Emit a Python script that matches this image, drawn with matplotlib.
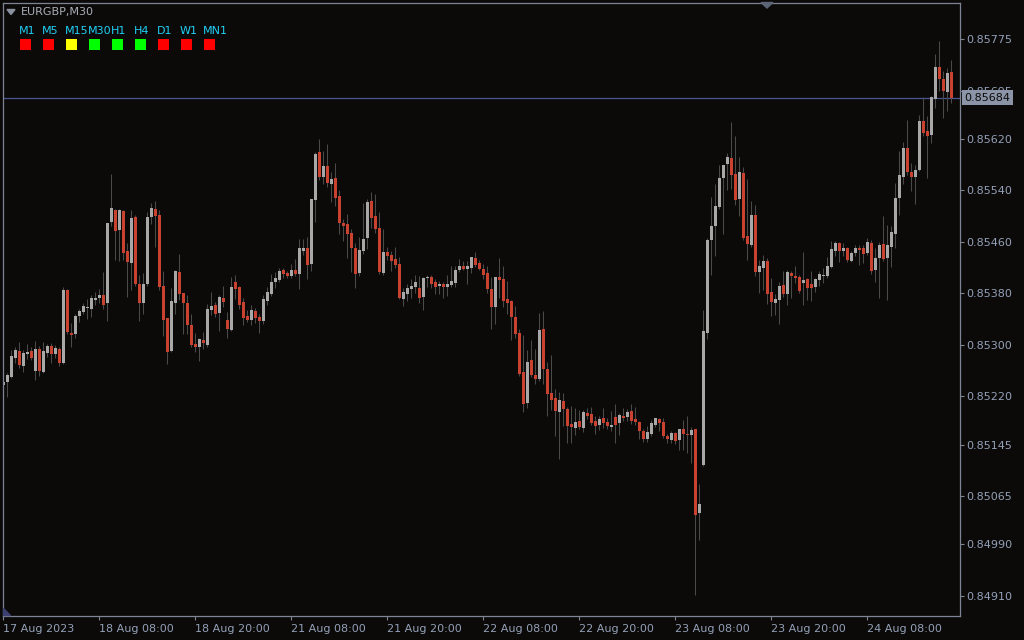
import matplotlib
matplotlib.use('Agg')
import matplotlib.pyplot as plt
from matplotlib.patches import Rectangle, Polygon
import numpy as np

# EURGBP M30 candles, oldest first (17 Aug 20:00 .. 24 Aug)
opens = [
    0.85238, 0.85242, 0.85250, 0.85280, 0.85290, 0.85267, 0.85286, 0.85290, 0.85259, 0.85294,
    0.85258, 0.85287, 0.85298, 0.85286, 0.85294, 0.85272, 0.85385, 0.85318, 0.85317, 0.85345,
    0.85351, 0.85357, 0.85356, 0.85370, 0.85373, 0.85378, 0.85365, 0.85491, 0.85510, 0.85478,
    0.85508, 0.85446, 0.85427, 0.85499, 0.85395, 0.85365, 0.85395, 0.85499, 0.85511, 0.85502,
    0.85391, 0.85342, 0.85290, 0.85365, 0.85413, 0.85381, 0.85365, 0.85331, 0.85301, 0.85297,
    0.85308, 0.85300, 0.85354, 0.85362, 0.85349, 0.85373, 0.85339, 0.85323, 0.85398, 0.85390,
    0.85367, 0.85345, 0.85339, 0.85353, 0.85343, 0.85337, 0.85368, 0.85379, 0.85398, 0.85401,
    0.85416, 0.85412, 0.85407, 0.85416, 0.85410, 0.85446, 0.85450, 0.85426, 0.85525, 0.85599,
    0.85561, 0.85578, 0.85550, 0.85559, 0.85531, 0.85489, 0.85488, 0.85474, 0.85450, 0.85412,
    0.85446, 0.85466, 0.85523, 0.85500, 0.85481, 0.85412, 0.85444, 0.85440, 0.85433, 0.85426,
    0.85371, 0.85379, 0.85387, 0.85390, 0.85388, 0.85374, 0.85404, 0.85405, 0.85398, 0.85391,
    0.85395, 0.85390, 0.85393, 0.85396, 0.85416, 0.85422, 0.85418, 0.85419, 0.85435, 0.85427,
    0.85418, 0.85412, 0.85387, 0.85359, 0.85405, 0.85402, 0.85371, 0.85368, 0.85343, 0.85318,
    0.85258, 0.85210, 0.85276, 0.85253, 0.85247, 0.85325, 0.85262, 0.85225, 0.85218, 0.85196,
    0.85213, 0.85200, 0.85177, 0.85171, 0.85182, 0.85171, 0.85194, 0.85193, 0.85182, 0.85176,
    0.85186, 0.85180, 0.85172, 0.85188, 0.85179, 0.85190, 0.85188, 0.85197, 0.85185, 0.85180,
    0.85166, 0.85154, 0.85162, 0.85176, 0.85185, 0.85180, 0.85158, 0.85152, 0.85163, 0.85152,
    0.85169, 0.85162, 0.85160, 0.85169, 0.85039, 0.85113, 0.85318, 0.85463, 0.85485, 0.85514,
    0.85559, 0.85581, 0.85590, 0.85565, 0.85526, 0.85567, 0.85469, 0.85455, 0.85502, 0.85413,
    0.85419, 0.85430, 0.85382, 0.85365, 0.85370, 0.85393, 0.85379, 0.85412, 0.85407, 0.85405,
    0.85396, 0.85402, 0.85395, 0.85390, 0.85401, 0.85407, 0.85407, 0.85421, 0.85446, 0.85458,
    0.85446, 0.85450, 0.85430, 0.85443, 0.85450, 0.85450, 0.85443, 0.85458, 0.85416, 0.85435,
    0.85457, 0.85435, 0.85452, 0.85472, 0.85528, 0.85561, 0.85606, 0.85568, 0.85561, 0.85572,
    0.85648, 0.85632, 0.85626, 0.85682, 0.85731, 0.85713, 0.85693, 0.85724,
]
highs = [
    0.85259, 0.85256, 0.85292, 0.85297, 0.85304, 0.85292, 0.85301, 0.85297, 0.85306, 0.85298,
    0.85304, 0.85301, 0.85303, 0.85300, 0.85297, 0.85390, 0.85386, 0.85334, 0.85348, 0.85356,
    0.85365, 0.85371, 0.85378, 0.85382, 0.85387, 0.85413, 0.85490, 0.85565, 0.85511, 0.85511,
    0.85510, 0.85458, 0.85510, 0.85502, 0.85408, 0.85412, 0.85506, 0.85520, 0.85523, 0.85510,
    0.85415, 0.85342, 0.85388, 0.85416, 0.85441, 0.85381, 0.85378, 0.85348, 0.85318, 0.85311,
    0.85320, 0.85363, 0.85382, 0.85367, 0.85378, 0.85391, 0.85351, 0.85405, 0.85408, 0.85391,
    0.85373, 0.85354, 0.85362, 0.85357, 0.85348, 0.85378, 0.85390, 0.85410, 0.85413, 0.85419,
    0.85419, 0.85415, 0.85426, 0.85433, 0.85464, 0.85464, 0.85467, 0.85527, 0.85599, 0.85620,
    0.85601, 0.85612, 0.85568, 0.85582, 0.85540, 0.85495, 0.85503, 0.85480, 0.85458, 0.85467,
    0.85520, 0.85527, 0.85537, 0.85534, 0.85506, 0.85480, 0.85452, 0.85446, 0.85452, 0.85436,
    0.85388, 0.85395, 0.85402, 0.85408, 0.85407, 0.85405, 0.85408, 0.85408, 0.85402, 0.85399,
    0.85398, 0.85408, 0.85422, 0.85422, 0.85433, 0.85430, 0.85430, 0.85437, 0.85444, 0.85432,
    0.85426, 0.85422, 0.85405, 0.85406, 0.85435, 0.85422, 0.85399, 0.85370, 0.85360, 0.85325,
    0.85315, 0.85292, 0.85308, 0.85294, 0.85350, 0.85353, 0.85273, 0.85284, 0.85231, 0.85227,
    0.85225, 0.85203, 0.85205, 0.85202, 0.85199, 0.85199, 0.85202, 0.85203, 0.85190, 0.85190,
    0.85202, 0.85186, 0.85197, 0.85208, 0.85194, 0.85202, 0.85200, 0.85208, 0.85203, 0.85182,
    0.85169, 0.85174, 0.85183, 0.85187, 0.85187, 0.85187, 0.85162, 0.85166, 0.85165, 0.85170,
    0.85183, 0.85190, 0.85172, 0.85170, 0.85084, 0.85354, 0.85466, 0.85530, 0.85550, 0.85579,
    0.85580, 0.85598, 0.85646, 0.85624, 0.85592, 0.85576, 0.85558, 0.85523, 0.85517, 0.85432,
    0.85440, 0.85435, 0.85404, 0.85379, 0.85398, 0.85415, 0.85416, 0.85415, 0.85422, 0.85408,
    0.85444, 0.85404, 0.85415, 0.85404, 0.85415, 0.85419, 0.85436, 0.85461, 0.85461, 0.85459,
    0.85458, 0.85452, 0.85446, 0.85455, 0.85455, 0.85455, 0.85466, 0.85463, 0.85450, 0.85460,
    0.85500, 0.85486, 0.85485, 0.85551, 0.85601, 0.85615, 0.85649, 0.85582, 0.85579, 0.85657,
    0.85685, 0.85655, 0.85686, 0.85752, 0.85772, 0.85725, 0.85730, 0.85742,
]
lows = [
    0.85222, 0.85219, 0.85249, 0.85272, 0.85264, 0.85258, 0.85278, 0.85276, 0.85245, 0.85252,
    0.85256, 0.85281, 0.85272, 0.85280, 0.85267, 0.85270, 0.85317, 0.85297, 0.85311, 0.85336,
    0.85348, 0.85340, 0.85343, 0.85362, 0.85365, 0.85356, 0.85337, 0.85485, 0.85432, 0.85430,
    0.85432, 0.85374, 0.85385, 0.85391, 0.85337, 0.85348, 0.85391, 0.85488, 0.85452, 0.85385,
    0.85314, 0.85270, 0.85289, 0.85348, 0.85370, 0.85317, 0.85317, 0.85297, 0.85289, 0.85275,
    0.85294, 0.85297, 0.85346, 0.85343, 0.85322, 0.85359, 0.85311, 0.85322, 0.85371, 0.85356,
    0.85331, 0.85336, 0.85331, 0.85334, 0.85318, 0.85332, 0.85362, 0.85376, 0.85388, 0.85398,
    0.85404, 0.85404, 0.85404, 0.85407, 0.85387, 0.85440, 0.85402, 0.85415, 0.85491, 0.85556,
    0.85550, 0.85545, 0.85522, 0.85516, 0.85472, 0.85461, 0.85435, 0.85413, 0.85388, 0.85407,
    0.85441, 0.85449, 0.85481, 0.85474, 0.85410, 0.85408, 0.85432, 0.85415, 0.85419, 0.85371,
    0.85360, 0.85368, 0.85373, 0.85381, 0.85365, 0.85354, 0.85390, 0.85388, 0.85379, 0.85379,
    0.85373, 0.85376, 0.85390, 0.85390, 0.85413, 0.85416, 0.85395, 0.85412, 0.85421, 0.85416,
    0.85402, 0.85381, 0.85325, 0.85332, 0.85373, 0.85359, 0.85348, 0.85308, 0.85311, 0.85252,
    0.85196, 0.85202, 0.85250, 0.85239, 0.85244, 0.85239, 0.85190, 0.85199, 0.85158, 0.85123,
    0.85174, 0.85148, 0.85148, 0.85160, 0.85169, 0.85165, 0.85185, 0.85176, 0.85162, 0.85168,
    0.85171, 0.85169, 0.85166, 0.85148, 0.85160, 0.85182, 0.85182, 0.85177, 0.85176, 0.85154,
    0.85149, 0.85149, 0.85158, 0.85172, 0.85166, 0.85155, 0.85148, 0.85148, 0.85146, 0.85137,
    0.85137, 0.85132, 0.85117, 0.84912, 0.84997, 0.85112, 0.85309, 0.85408, 0.85438, 0.85511,
    0.85472, 0.85540, 0.85542, 0.85517, 0.85500, 0.85463, 0.85432, 0.85452, 0.85407, 0.85381,
    0.85385, 0.85363, 0.85345, 0.85346, 0.85332, 0.85374, 0.85362, 0.85373, 0.85396, 0.85381,
    0.85362, 0.85370, 0.85368, 0.85382, 0.85391, 0.85396, 0.85404, 0.85419, 0.85438, 0.85429,
    0.85438, 0.85429, 0.85429, 0.85438, 0.85424, 0.85427, 0.85440, 0.85410, 0.85398, 0.85373,
    0.85430, 0.85370, 0.85421, 0.85450, 0.85502, 0.85550, 0.85564, 0.85539, 0.85519, 0.85570,
    0.85624, 0.85559, 0.85613, 0.85668, 0.85694, 0.85652, 0.85663, 0.85676,
]
closes = [
    0.85242, 0.85253, 0.85283, 0.85292, 0.85269, 0.85287, 0.85289, 0.85280, 0.85294, 0.85259,
    0.85290, 0.85298, 0.85286, 0.85295, 0.85272, 0.85385, 0.85320, 0.85315, 0.85345, 0.85353,
    0.85360, 0.85359, 0.85373, 0.85373, 0.85378, 0.85362, 0.85489, 0.85513, 0.85477, 0.85510,
    0.85443, 0.85429, 0.85497, 0.85395, 0.85365, 0.85395, 0.85499, 0.85513, 0.85500, 0.85390,
    0.85339, 0.85289, 0.85368, 0.85415, 0.85379, 0.85365, 0.85331, 0.85300, 0.85297, 0.85309,
    0.85303, 0.85356, 0.85360, 0.85348, 0.85374, 0.85367, 0.85325, 0.85390, 0.85387, 0.85362,
    0.85342, 0.85339, 0.85354, 0.85342, 0.85337, 0.85371, 0.85382, 0.85398, 0.85404, 0.85415,
    0.85410, 0.85407, 0.85416, 0.85410, 0.85450, 0.85450, 0.85424, 0.85526, 0.85596, 0.85561,
    0.85578, 0.85551, 0.85558, 0.85528, 0.85489, 0.85485, 0.85472, 0.85450, 0.85410, 0.85447,
    0.85464, 0.85522, 0.85497, 0.85480, 0.85413, 0.85444, 0.85438, 0.85430, 0.85424, 0.85373,
    0.85382, 0.85388, 0.85391, 0.85398, 0.85373, 0.85404, 0.85405, 0.85395, 0.85390, 0.85395,
    0.85390, 0.85395, 0.85399, 0.85416, 0.85422, 0.85418, 0.85422, 0.85436, 0.85424, 0.85418,
    0.85408, 0.85387, 0.85359, 0.85405, 0.85401, 0.85368, 0.85365, 0.85343, 0.85317, 0.85255,
    0.85208, 0.85273, 0.85253, 0.85247, 0.85323, 0.85262, 0.85224, 0.85214, 0.85197, 0.85214,
    0.85200, 0.85174, 0.85172, 0.85180, 0.85172, 0.85196, 0.85190, 0.85179, 0.85174, 0.85185,
    0.85179, 0.85174, 0.85176, 0.85176, 0.85191, 0.85186, 0.85196, 0.85182, 0.85180, 0.85166,
    0.85154, 0.85165, 0.85179, 0.85186, 0.85179, 0.85158, 0.85154, 0.85163, 0.85151, 0.85169,
    0.85162, 0.85160, 0.85168, 0.85036, 0.85053, 0.85322, 0.85463, 0.85485, 0.85516, 0.85559,
    0.85579, 0.85592, 0.85564, 0.85525, 0.85568, 0.85466, 0.85457, 0.85502, 0.85413, 0.85422,
    0.85430, 0.85379, 0.85367, 0.85371, 0.85391, 0.85379, 0.85413, 0.85407, 0.85404, 0.85384,
    0.85401, 0.85388, 0.85388, 0.85402, 0.85410, 0.85408, 0.85422, 0.85449, 0.85458, 0.85446,
    0.85450, 0.85432, 0.85443, 0.85450, 0.85447, 0.85441, 0.85460, 0.85415, 0.85435, 0.85455,
    0.85433, 0.85455, 0.85475, 0.85528, 0.85564, 0.85606, 0.85568, 0.85561, 0.85572, 0.85648,
    0.85629, 0.85624, 0.85685, 0.85731, 0.85713, 0.85694, 0.85722, 0.85684,
]

time_labels = ["17 Aug 2023", "18 Aug 08:00", "18 Aug 20:00", "21 Aug 08:00", "21 Aug 20:00",
               "22 Aug 08:00", "22 Aug 20:00", "23 Aug 08:00", "23 Aug 20:00", "24 Aug 08:00"]
label_bars = [0, 24, 48, 72, 96, 120, 144, 168, 192, 216]
price_ticks = [0.85775, 0.85695, 0.85620, 0.85540, 0.85460, 0.85380,
               0.85300, 0.85220, 0.85145, 0.85065, 0.84990, 0.84910]
last_price = 0.85684
symbol = "EURGBP,M30"
tf_names = ["M1", "M5", "M15", "M30", "H1", "H4", "D1", "W1", "MN1"]
tf_colors = ["#ff0000", "#ff0000", "#ffff00", "#00ff00", "#00ff00", "#00ff00",
             "#ff0000", "#ff0000", "#ff0000"]

bg = '#0c0a08'
fg = '#7d8595'
txt = '#93a0b8'
bull = '#a8a8a8'
bear = '#c8422f'
wick = '#4a4a4a'

fig = plt.figure(figsize=(10.24, 6.4), dpi=100, facecolor=bg)
ax = fig.add_axes([2.5 / 1024, 24.5 / 640, 957 / 1024, 613 / 640])
ax.set_facecolor(bg)

o = np.array(opens)
h = np.array(highs)
l = np.array(lows)
c = np.array(closes)
x = np.arange(len(o))
up = c >= o

ax.axhline(last_price, color='#4b5794', lw=0.9, zorder=0.5)
ax.vlines(x, l, h, color=wick, lw=0.75, zorder=1)
body_lo = np.minimum(o, c)
body_h = np.maximum(np.abs(c - o), 0.000012)
ax.bar(x[up], body_h[up], bottom=body_lo[up], width=0.75, color=bull, lw=0, zorder=2)
ax.bar(x[~up], body_h[~up], bottom=body_lo[~up], width=0.75, color=bear, lw=0, zorder=2)

ax.set_xlim(-0.2, 239.05)
ax.set_ylim(0.848797, 0.858317)

for s in ax.spines.values():
    s.set_color(fg)
    s.set_linewidth(0.9)

ax.yaxis.tick_right()
ax.set_yticks(price_ticks)
ax.set_yticklabels(['%.5f' % p for p in price_ticks])
ax.tick_params(axis='y', length=3, width=0.8, pad=2, labelsize=8, color=fg, labelcolor=txt)
ax.set_xticks(label_bars)
ax.set_xticklabels(time_labels, ha='left')
ax.tick_params(axis='x', length=3, width=0.8, pad=3, labelsize=8, color=fg, labelcolor=txt)

ax.annotate('%.5f' % last_price, xy=(1, last_price), xycoords=ax.get_yaxis_transform(),
            xytext=(3.5, 0), textcoords='offset points', ha='left', va='center',
            fontsize=8, color='#0c0a08', annotation_clip=False, zorder=5,
            bbox=dict(boxstyle='square,pad=0.2', fc='#8c95a8', ec='none'))

# overlay in pixel coords for header and indicator boxes
ov = fig.add_axes([0, 0, 1, 1], facecolor='none')
ov.set_xlim(0, 1024)
ov.set_ylim(640, 0)
ov.axis('off')
ov.add_patch(Polygon([[7, 9.5], [15, 9.5], [11, 14.5]], closed=True, color='#8a92a0'))
ov.text(20.5, 12.5, symbol, color='#a8aeb8', fontsize=8, va='center', ha='left')
for k, (name, col) in enumerate(zip(tf_names, tf_colors)):
    ov.text(19 + 23 * k, 31.5, name, color='#20cff5', fontsize=8, va='center', ha='left')
    ov.add_patch(Rectangle((20 + 23 * k, 38.5), 11, 11, fc=col, ec='none'))
ov.add_patch(Polygon([[761, 2.5], [773, 2.5], [767, 8]], closed=True, color='#5c6478'))
ov.add_patch(Polygon([[3, 608], [3, 615], [10, 615]], closed=True, color='#3c4070'))

fig.savefig('out.png', dpi=100, facecolor=bg)
